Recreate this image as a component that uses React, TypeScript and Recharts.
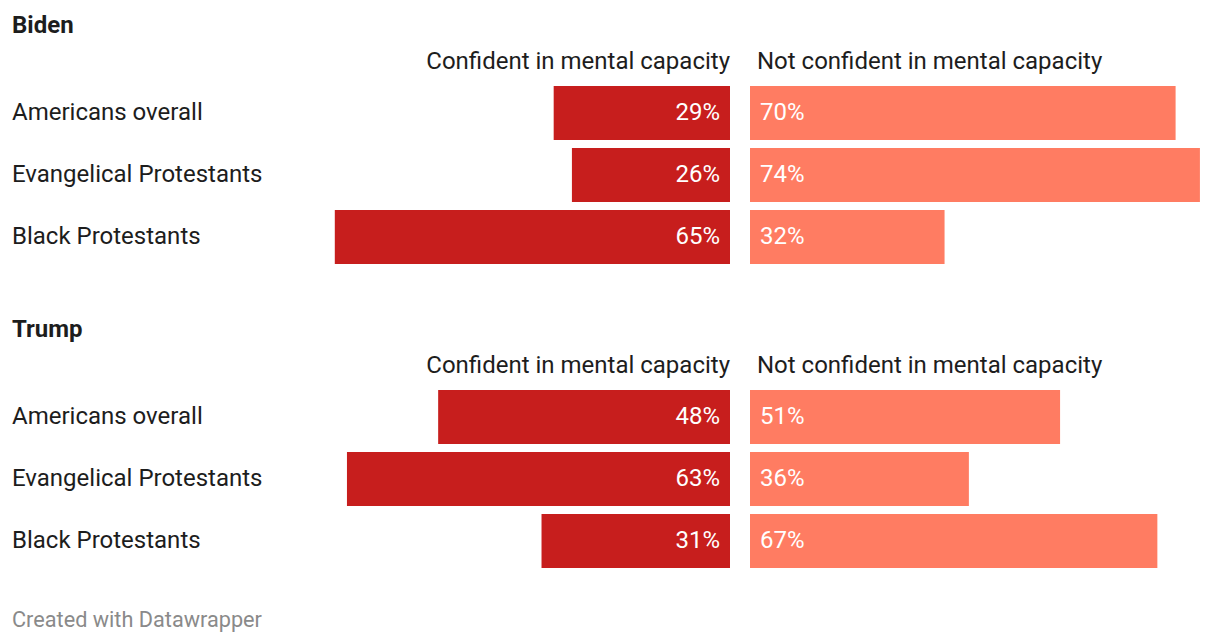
import React from 'react';
import { BarChart, Bar, XAxis, YAxis, LabelList } from 'recharts';

const GROUPS = ['Americans overall', 'Evangelical Protestants', 'Black Protestants'];
const BIDEN_CONFIDENT = [29, 26, 65];
const BIDEN_NOT_CONFIDENT = [70, 74, 32];
const TRUMP_CONFIDENT = [48, 63, 31];
const TRUMP_NOT_CONFIDENT = [51, 36, 67];

const PX_PER_PCT = 6.08;
const LEFT_W = 730;
const RIGHT_X = 750;
const RIGHT_W = 470;
const FONT = 'Roboto, "Noto Sans", sans-serif';
const TEXT = '#1d1d1d';

const pct = (v: any) => `${v}%`;

const LeftLabel = (props: any) => {
    const { x, y, width, height, value } = props;
    const right = Math.max(x, x + width);
    return (
        <text x={right - 10} y={y + height / 2 - 1} dominantBaseline="central" textAnchor="end"
            fill="#fff" fontSize={24} fontFamily={FONT}>{pct(value)}</text>
    );
};

const RightLabel = (props: any) => {
    const { x, y, width, height, value } = props;
    const left = Math.min(x, x + width);
    return (
        <text x={left + 10} y={y + height / 2 - 1} dominantBaseline="central" textAnchor="start"
            fill="#fff" fontSize={24} fontFamily={FONT}>{pct(value)}</text>
    );
};

// row name, drawn at the left edge of the chart
const GroupLabel = (props: any) => {
    const { y, height, value } = props;
    return (
        <text x={12} y={y + height / 2 - 1} dominantBaseline="central" textAnchor="start"
            fill={TEXT} fontSize={24} fontFamily={FONT}>{value}</text>
    );
};

interface PanelProps {
    title: string;
    top: number;
    confident: number[];
    notConfident: number[];
}

const Panel: React.FC<PanelProps> = ({ title, top, confident, notConfident }) => {
    const data = GROUPS.map((g, i) => ({ group: g, confident: confident[i], notConfident: notConfident[i] }));
    return (
        <>
            <div style={{ position: 'absolute', left: 12, top: top + 11, fontSize: 24, fontWeight: 700, color: TEXT, lineHeight: '28px' }}>
                {title}
            </div>
            <div style={{ position: 'absolute', right: 1220 - LEFT_W, top: top + 47, fontSize: 24, color: TEXT, lineHeight: '28px', whiteSpace: 'nowrap' }}>
                Confident in mental capacity
            </div>
            <div style={{ position: 'absolute', left: 757, top: top + 47, fontSize: 24, color: TEXT, lineHeight: '28px', whiteSpace: 'nowrap' }}>
                Not confident in mental capacity
            </div>
            <div style={{ position: 'absolute', left: 0, top: top + 82 }}>
                <BarChart layout="vertical" width={LEFT_W} height={186} data={data}
                    margin={{ top: 0, right: 0, bottom: 0, left: 0 }} barCategoryGap={4}>
                    <XAxis type="number" domain={[0, LEFT_W / PX_PER_PCT]} reversed hide />
                    <YAxis type="category" dataKey="group" hide />
                    <Bar dataKey="confident" fill="#c71e1d" barSize={54} isAnimationActive={false}>
                        <LabelList dataKey="confident" content={<LeftLabel />} />
                        <LabelList dataKey="group" content={<GroupLabel />} />
                    </Bar>
                </BarChart>
            </div>
            <div style={{ position: 'absolute', left: RIGHT_X, top: top + 82 }}>
                <BarChart layout="vertical" width={RIGHT_W} height={186} data={data}
                    margin={{ top: 0, right: 0, bottom: 0, left: 0 }} barCategoryGap={4}>
                    <XAxis type="number" domain={[0, RIGHT_W / PX_PER_PCT]} hide />
                    <YAxis type="category" dataKey="group" hide />
                    <Bar dataKey="notConfident" fill="#ff7c62" barSize={54} isAnimationActive={false}>
                        <LabelList dataKey="notConfident" content={<RightLabel />} />
                    </Bar>
                </BarChart>
            </div>
        </>
    );
};

const App: React.FC = () => {
    return (
        <div style={{ position: 'absolute', left: 0, top: 0, width: 1220, height: 644, background: '#fff', fontFamily: FONT, overflow: 'hidden' }}>
            <Panel title="Biden" top={0} confident={BIDEN_CONFIDENT} notConfident={BIDEN_NOT_CONFIDENT} />
            <Panel title="Trump" top={304} confident={TRUMP_CONFIDENT} notConfident={TRUMP_NOT_CONFIDENT} />
            <div style={{ position: 'absolute', left: 12, top: 606, fontSize: 21.7, color: '#8a8a8a', lineHeight: '28px' }}>
                Created with Datawrapper
            </div>
        </div>
    );
};

export default App;
